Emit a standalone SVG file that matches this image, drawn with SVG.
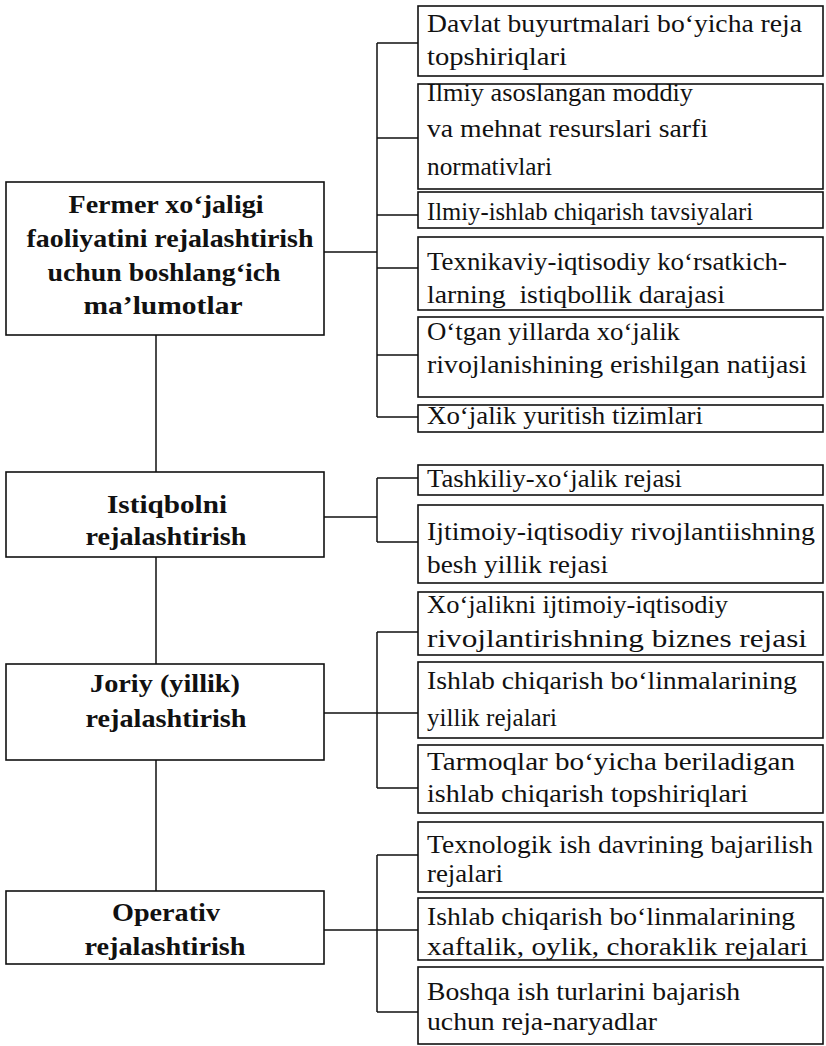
<svg xmlns="http://www.w3.org/2000/svg" width="826" height="1046" viewBox="0 0 826 1046">
<style>
.box{fill:#fff;stroke:#111;stroke-width:1.6}
.l{font-family:'Liberation Serif','Times New Roman',serif;font-weight:bold;font-size:26px;fill:#111;text-anchor:middle}
.r{font-family:'Liberation Serif','Times New Roman',serif;font-size:25px;fill:#111}
.c{fill:none;stroke:#111;stroke-width:1.5}
</style>
<rect width="826" height="1046" fill="#fff"/>
<g id="connectors">
<path class="c" d="M156 335V472M156 557V664M156 760V891"/>
<path class="c" d="M324 252H377M377 43V417M377 43H418M377 138H418M377 215H418M377 268H418M377 355H418M377 417H418"/>
<path class="c" d="M324 517H377M377 478V542M377 478H418M377 542H418"/>
<path class="c" d="M324 713H418M377 632V788M377 632H418M377 788H418"/>
<path class="c" d="M324 930H418M377 855V1012M377 855H418M377 1012H418"/>
</g>
<g id="L1"><rect class="box" x="6" y="182" width="318" height="153"/>
<text class="l" x="166" y="213" textLength="195" lengthAdjust="spacingAndGlyphs">Fermer xo‘jaligi</text>
<text class="l" x="170" y="247" textLength="287" lengthAdjust="spacingAndGlyphs">faoliyatini rejalashtirish</text>
<text class="l" x="164" y="281" textLength="233" lengthAdjust="spacingAndGlyphs">uchun boshlang‘ich</text>
<text class="l" x="163" y="314" textLength="159" lengthAdjust="spacingAndGlyphs">ma’lumotlar</text></g>
<g id="L2"><rect class="box" x="6" y="472" width="318" height="85"/>
<text class="l" x="167" y="513" textLength="120" lengthAdjust="spacingAndGlyphs">Istiqbolni</text>
<text class="l" x="166" y="545" textLength="161" lengthAdjust="spacingAndGlyphs">rejalashtirish</text></g>
<g id="L3"><rect class="box" x="6" y="664" width="318" height="96"/>
<text class="l" x="165" y="692" textLength="150" lengthAdjust="spacingAndGlyphs">Joriy (yillik)</text>
<text class="l" x="166" y="727" textLength="161" lengthAdjust="spacingAndGlyphs">rejalashtirish</text></g>
<g id="L4"><rect class="box" x="6" y="891" width="318" height="73"/>
<text class="l" x="166" y="921" textLength="108" lengthAdjust="spacingAndGlyphs">Operativ</text>
<text class="l" x="165" y="955" textLength="161" lengthAdjust="spacingAndGlyphs">rejalashtirish</text></g>
<g id="R1"><rect class="box" x="418" y="6" width="405" height="70"/>
<text class="r" x="427" y="32" textLength="375" lengthAdjust="spacingAndGlyphs">Davlat buyurtmalari bo‘yicha reja</text>
<text class="r" x="427" y="65" textLength="140" lengthAdjust="spacingAndGlyphs">topshiriqlari</text></g>
<g id="R2"><rect class="box" x="418" y="84" width="405" height="105"/>
<text class="r" x="427" y="101" textLength="266" lengthAdjust="spacingAndGlyphs">Ilmiy asoslangan moddiy</text>
<text class="r" x="427" y="137" textLength="281" lengthAdjust="spacingAndGlyphs">va mehnat resurslari sarfi</text>
<text class="r" x="427" y="175" textLength="125" lengthAdjust="spacingAndGlyphs">normativlari</text></g>
<g id="R3"><rect class="box" x="418" y="192" width="405" height="36"/>
<text class="r" x="427" y="220" textLength="326" lengthAdjust="spacingAndGlyphs">Ilmiy-ishlab chiqarish tavsiyalari</text></g>
<g id="R4"><rect class="box" x="418" y="237" width="405" height="73"/>
<text class="r" x="427" y="270" textLength="360" lengthAdjust="spacingAndGlyphs">Texnikaviy-iqtisodiy ko‘rsatkich-</text>
<text class="r" x="427" y="303" textLength="298" lengthAdjust="spacingAndGlyphs" xml:space="preserve">larning  istiqbollik darajasi</text></g>
<g id="R5"><rect class="box" x="418" y="317" width="405" height="80"/>
<text class="r" x="427" y="340" textLength="253" lengthAdjust="spacingAndGlyphs">O‘tgan yillarda xo‘jalik</text>
<text class="r" x="427" y="373" textLength="380" lengthAdjust="spacingAndGlyphs">rivojlanishining erishilgan natijasi</text></g>
<g id="R6"><rect class="box" x="418" y="405" width="405" height="27"/>
<text class="r" x="427" y="424" textLength="276" lengthAdjust="spacingAndGlyphs">Xo‘jalik yuritish tizimlari</text></g>
<g id="R7"><rect class="box" x="418" y="465" width="405" height="30"/>
<text class="r" x="427" y="487" textLength="255" lengthAdjust="spacingAndGlyphs">Tashkiliy-xo‘jalik rejasi</text></g>
<g id="R8"><rect class="box" x="418" y="505" width="405" height="78"/>
<text class="r" x="427" y="540" textLength="388" lengthAdjust="spacingAndGlyphs">Ijtimoiy-iqtisodiy rivojlantiishning</text>
<text class="r" x="427" y="573" textLength="181" lengthAdjust="spacingAndGlyphs">besh yillik rejasi</text></g>
<g id="R9"><rect class="box" x="418" y="592" width="405" height="63"/>
<text class="r" x="427" y="613" textLength="301" lengthAdjust="spacingAndGlyphs">Xo‘jalikni ijtimoiy-iqtisodiy</text>
<text class="r" x="427" y="647" textLength="380" lengthAdjust="spacingAndGlyphs">rivojlantirishning biznes rejasi</text></g>
<g id="R10"><rect class="box" x="418" y="662" width="405" height="76"/>
<text class="r" x="427" y="689" textLength="370" lengthAdjust="spacingAndGlyphs">Ishlab chiqarish bo‘linmalarining</text>
<text class="r" x="427" y="726" textLength="130" lengthAdjust="spacingAndGlyphs">yillik rejalari</text></g>
<g id="R11"><rect class="box" x="418" y="745" width="405" height="68"/>
<text class="r" x="427" y="770" textLength="368" lengthAdjust="spacingAndGlyphs">Tarmoqlar bo‘yicha beriladigan</text>
<text class="r" x="427" y="802" textLength="321" lengthAdjust="spacingAndGlyphs">ishlab chiqarish topshiriqlari</text></g>
<g id="R12"><rect class="box" x="418" y="822" width="405" height="70"/>
<text class="r" x="427" y="853" textLength="386" lengthAdjust="spacingAndGlyphs">Texnologik ish davrining bajarilish</text>
<text class="r" x="427" y="882" textLength="76" lengthAdjust="spacingAndGlyphs">rejalari</text></g>
<g id="R13"><rect class="box" x="418" y="898" width="405" height="62"/>
<text class="r" x="427" y="925" textLength="368" lengthAdjust="spacingAndGlyphs">Ishlab chiqarish bo‘linmalarining</text>
<text class="r" x="427" y="955" textLength="381" lengthAdjust="spacingAndGlyphs">xaftalik, oylik, choraklik rejalari</text></g>
<g id="R14"><rect class="box" x="418" y="967" width="405" height="77"/>
<text class="r" x="427" y="1000" textLength="313" lengthAdjust="spacingAndGlyphs">Boshqa ish turlarini bajarish</text>
<text class="r" x="427" y="1030" textLength="230" lengthAdjust="spacingAndGlyphs">uchun reja-naryadlar</text></g>
</svg>
